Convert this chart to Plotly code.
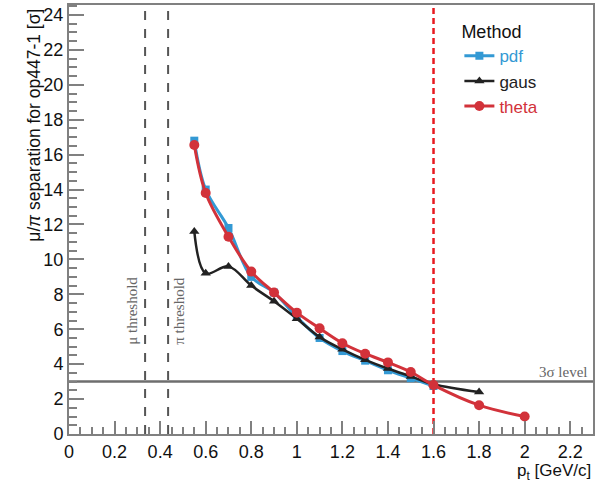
import plotly.graph_objects as go

# ---- data ----
p_pdf = [0.55, 0.6, 0.7, 0.8, 0.9, 1.0, 1.1, 1.2, 1.3, 1.4, 1.5, 1.6]
sep_pdf = [16.8, 14.0, 11.8, 9.0, 8.1, 6.7, 5.5, 4.75, 4.2, 3.65, 3.2, 2.75]

p_gaus = [0.55, 0.6, 0.7, 0.8, 0.9, 1.0, 1.1, 1.2, 1.3, 1.4, 1.5, 1.6, 1.8]
sep_gaus = [11.6, 9.2, 9.6, 8.5, 7.6, 6.6, 5.55, 4.85, 4.25, 3.75, 3.3, 2.85, 2.4]

p_theta = [0.55, 0.6, 0.7, 0.8, 0.9, 1.0, 1.1, 1.2, 1.3, 1.4, 1.5, 1.6, 1.8, 2.0]
sep_theta = [16.55, 13.8, 11.3, 9.3, 8.1, 6.95, 6.05, 5.2, 4.6, 4.1, 3.55, 2.8, 1.65, 1.0]

mu_threshold = 0.334
pi_threshold = 0.435
crossing_p = 1.6
sigma_level = 3

# ---- styles ----
C_PDF = "#3399d4"
C_GAUS = "#222222"
C_THETA = "#d2323a"
FRAME = "#808080"
SANS = "Liberation Sans, Arial, Helvetica, sans-serif"
SERIF = "Liberation Serif, Times New Roman, serif"

PLOT_L, PLOT_R, PLOT_T, PLOT_B = 69, 6, 5, 50
PLOT_W = 599 - PLOT_L - PLOT_R

fig = go.Figure()

fig.add_trace(go.Scatter(
    x=p_pdf, y=sep_pdf, mode="lines+markers",
    name=f"<span style='color:{C_PDF}'>pdf</span>",
    line=dict(color=C_PDF, width=3, shape="spline", smoothing=1),
    marker=dict(symbol="square", size=8, color=C_PDF),
))
fig.add_trace(go.Scatter(
    x=p_gaus, y=sep_gaus, mode="lines+markers",
    name=f"<span style='color:{C_GAUS}'>gaus</span>",
    line=dict(color=C_GAUS, width=2.5, shape="spline", smoothing=1),
    marker=dict(symbol="triangle-up", size=9, color=C_GAUS),
))
fig.add_trace(go.Scatter(
    x=p_theta, y=sep_theta, mode="lines+markers",
    name=f"<span style='color:{C_THETA}'>theta</span>",
    line=dict(color=C_THETA, width=3, shape="spline", smoothing=1),
    marker=dict(symbol="circle", size=10, color=C_THETA),
))

# reference lines
for xv in (mu_threshold, pi_threshold):
    fig.add_shape(type="line", xref="x", yref="paper", x0=xv, x1=xv, y0=0, y1=1,
                  line=dict(color="#555555", width=2, dash="dash"), layer="below")
fig.add_shape(type="line", xref="x", yref="paper", x0=crossing_p, x1=crossing_p, y0=0, y1=1,
              line=dict(color="#e8191f", width=2.5, dash="6px,4px"), layer="below")
fig.add_shape(type="line", xref="paper", yref="y", x0=0, x1=1, y0=sigma_level, y1=sigma_level,
              line=dict(color="#6e6e6e", width=2.5), layer="below")

# labels
fig.add_annotation(x=mu_threshold, y=5, xref="x", yref="y", text="μ threshold",
                   textangle=-90, showarrow=False, xanchor="right", yanchor="bottom",
                   xshift=-3, font=dict(family=SERIF, size=15, color="#666666"))
fig.add_annotation(x=pi_threshold, y=5, xref="x", yref="y", text="π threshold",
                   textangle=-90, showarrow=False, xanchor="left", yanchor="bottom",
                   xshift=1, font=dict(family=SERIF, size=15, color="#666666"))
fig.add_annotation(x=0.995, y=sigma_level, xref="paper", yref="y", text="3σ level",
                   showarrow=False, xanchor="right", yanchor="bottom", yshift=0,
                   font=dict(family=SERIF, size=15, color="#666666"))

# axis titles
fig.add_annotation(x=(34 - PLOT_L) / PLOT_W, y=0.995, xref="paper", yref="paper",
                   text="μ/<i>π</i> separation for op447-1 [σ]",
                   textangle=-90, showarrow=False, xanchor="center", yanchor="top",
                   font=dict(family=SANS, size=17.5, color="#111111"))
fig.add_annotation(x=1.0, y=-0.058, xref="paper", yref="paper", text="p<sub>t</sub> [GeV/c]",
                   showarrow=False, xanchor="right", yanchor="top",
                   font=dict(family=SANS, size=17, color="#111111"))

axis_common = dict(
    showline=True, linecolor=FRAME, linewidth=2, mirror=True,
    ticks="inside", tickcolor=FRAME, tickwidth=1.5,
    showgrid=False, zeroline=False, automargin=False,
    tickfont=dict(family=SANS, size=18, color="#111111"),
)

fig.update_xaxes(range=[0, 2.3], tick0=0, dtick=0.2, ticklen=13,
                 minor=dict(ticks="inside", dtick=0.05, ticklen=7, tickcolor=FRAME, tickwidth=1.5),
                 **axis_common)
fig.update_yaxes(range=[0, 24.57], tick0=0, dtick=2, ticklen=15,
                 minor=dict(ticks="inside", dtick=0.5, ticklen=8, tickcolor=FRAME, tickwidth=1.5),
                 **axis_common)

fig.update_layout(
    width=599, height=484,
    margin=dict(l=PLOT_L, r=PLOT_R, t=PLOT_T, b=PLOT_B),
    paper_bgcolor="white", plot_bgcolor="white",
    font=dict(family=SANS, color="#111111"),
    legend=dict(
        x=0.745, y=0.977, xanchor="left", yanchor="top",
        bgcolor="rgba(0,0,0,0)", itemwidth=30,
        title=dict(text="Method", font=dict(family=SANS, size=18, color="#111111")),
        font=dict(family=SANS, size=17), tracegroupgap=0,
    ),
    showlegend=True,
)

fig.write_html("out.html", config={"displayModeBar": False},
               post_script="document.body.style.margin='0px';")
